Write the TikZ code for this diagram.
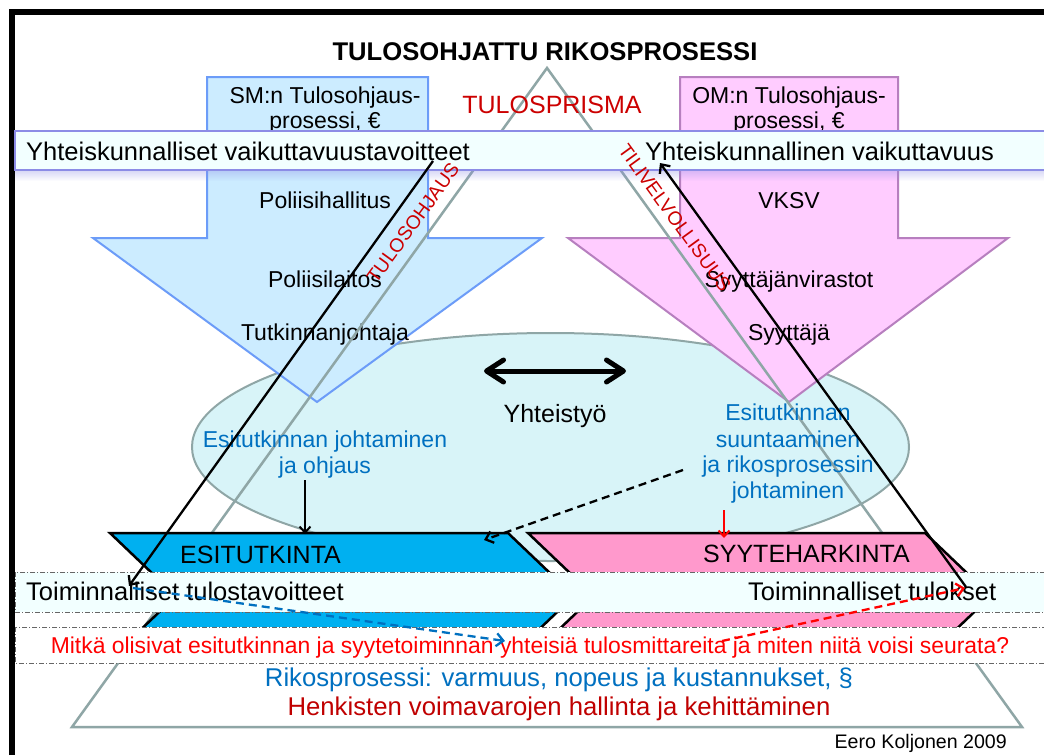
\documentclass[tikz,border=0pt]{standalone}
\usepackage{fontspec}
\setmainfont{Liberation Sans}
\usetikzlibrary{arrows.meta}

\definecolor{bluefill}{HTML}{CCECFF}
\definecolor{blueedge}{HTML}{6C9CF8}
\definecolor{pinkfill}{HTML}{FFCCFF}
\definecolor{pinkedge}{HTML}{B77FBF}
\definecolor{ellfill}{HTML}{D8F4F8}
\definecolor{grayedge}{HTML}{8FA6A6}
\definecolor{esifill}{HTML}{00B0F0}
\definecolor{syyfill}{HTML}{FF99CC}
\definecolor{bandfill}{HTML}{F2FFFF}
\definecolor{bandedge}{HTML}{8C8CE6}
\definecolor{darkred}{HTML}{C00000}
\definecolor{midred}{HTML}{CC0000}
\definecolor{textblue}{HTML}{0070C0}

\newcommand\fsz[1]{\fontsize{#1}{#1}\selectfont}

\begin{document}
\begin{tikzpicture}[x=1pt,y=-1pt,
  txt/.style={inner sep=0pt, anchor=base, font=\fsz{23}},
  bandtxt/.style={inner sep=0pt, anchor=base west, font=\fsz{25.5}},
  blkarrow/.style={line width=2.3pt, -{Straight Barb[length=7pt,width=13pt]}},
  dotband/.style={draw=black!60, line width=0.9pt, dash pattern=on 5pt off 2pt on 1pt off 2pt},
  chev/.style={draw=black, line width=2.5pt, line join=miter},
  dashedarrow/.style={line width=2.3pt, dash pattern=on 8pt off 5pt, -{Straight Barb[length=7pt,width=13pt]}},
]
\useasboundingbox (0,0) rectangle (1044,755);
\fill[white] (0,0) rectangle (1044,755);

% frame
\draw[line width=6pt] (12,755) -- (12,12) -- (1044,12);

% title
\node[txt, font=\fsz{25.6}\bfseries] (title) at (545,60) {TULOSOHJATTU RIKOSPROSESSI};

% cooperation ellipse
\draw[fill=ellfill, draw=grayedge, line width=2pt] (550.5,447) ellipse [x radius=358.5, y radius=114];

% block arrows of the two ministries
\draw[fill=bluefill, draw=blueedge, line width=2pt]
  (207,77) -- (428,77) -- (428,238) -- (542,238) -- (317,402) -- (93,238) -- (207,238) -- cycle;
\draw[fill=pinkfill, draw=pinkedge, line width=2pt]
  (680,77) -- (898,77) -- (898,238) -- (1008,238) -- (789,402) -- (568,238) -- (680,238) -- cycle;

\node[txt] (smA) at (325,103) {SM:n Tulosohjaus-};
\node[txt] (smB) at (325,128) {prosessi, €};
\node[txt] (poh) at (325,208) {Poliisihallitus};
\node[txt] (pol) at (325,287) {Poliisilaitos};
\node[txt] (tut) at (325,340) {Tutkinnanjohtaja};
\node[txt] (omA) at (789,103) {OM:n Tulosohjaus-};
\node[txt] (omB) at (789,128) {prosessi, €};
\node[txt] (vksv) at (789,208) {VKSV};
\node[txt] (syv) at (789,287) {Syyttäjänvirastot};
\node[txt] (syy) at (789,340) {Syyttäjä};

% result prism
\draw[draw=grayedge, line width=2.5pt, line join=miter] (547,68) -- (1022,727) -- (72,727) -- cycle;
\node[txt, font=\fsz{25}, text=midred] (prisma) at (552,113) {TULOSPRISMA};

% ellipse contents
\node[txt, font=\fsz{25}] (yht) at (555,422) {Yhteistyö};
\coordinate (coopL) at (484,371);
\coordinate (coopR) at (626,371);
\draw[line width=5pt, {Straight Barb[round,length=17pt,width=22pt]}-{Straight Barb[round,length=17pt,width=22pt]}] (coopL) -- (coopR);

\node[txt, text=textblue] (ejA) at (325,447) {Esitutkinnan johtaminen};
\node[txt, text=textblue] (ejB) at (325,473) {ja ohjaus};
\node[txt, text=textblue] (esA) at (788,420) {Esitutkinnan};
\node[txt, text=textblue] (esB) at (788,447) {suuntaaminen};
\node[txt, text=textblue] (esC) at (788,472) {ja rikosprosessin};
\node[txt, text=textblue] (esD) at (788,498) {johtaminen};

% the two process chevrons
\draw[chev, fill=esifill] (110,533) -- (508,533) -- (574,596) -- (508,659) -- (110,659) -- (176,596) -- cycle;
\draw[chev, fill=syyfill] (528,533) -- (925,533) -- (991,596) -- (925,659) -- (528,659) -- (594,596) -- cycle;
\node[txt, font=\fsz{25}, anchor=base west] (esi) at (180,563) {ESITUTKINTA};
\node[txt, font=\fsz{25}, anchor=base west] (syyt) at (703,562) {SYYTEHARKINTA};

% leadership arrows into the chevrons
\coordinate (ejOut) at (305,480);
\coordinate (esiIn) at (305,534);
\draw[line width=2pt, -{Straight Barb[length=6pt,width=11pt]}] (ejOut) -- (esiIn);
\coordinate (esOut) at (724,510);
\coordinate (syyIn) at (724,538);
\draw[red, line width=2pt, -{Straight Barb[length=6pt,width=11pt]}] (esOut) -- (syyIn);
\coordinate (dashOut) at (683,470);
\coordinate (dashIn) at (484,540);
\draw[line width=2.3pt, dash pattern=on 8pt off 5pt, -{Straight Barb[length=7pt,width=12pt]}] (dashOut) -- (dashIn);

% societal band
\foreach \i [evaluate=\i as \op using 0.32*(1-\i/10)] in {0,...,9}
  \fill[bandedge, opacity=\op] (15,171+\i) rectangle (1044,172+\i);
\draw[fill=bandfill, draw=bandedge, line width=1.5pt] (15,131) rectangle (1050,170);
\node[bandtxt] (ytav) at (26,160) {Yhteiskunnalliset vaikuttavuustavoitteet};
\node[bandtxt] (yvai) at (645,160) {Yhteiskunnallinen vaikuttavuus};

% operational band
\draw[dotband, fill=bandfill] (15,572) rectangle (1050,612);
\node[bandtxt] (ttav) at (26,600) {Toiminnalliset tulostavoitteet};
\node[bandtxt] (ttul) at (748,600) {Toiminnalliset tulokset};

% question band
\draw[dotband, fill=white] (15,627) rectangle (1050,663);
\node[txt, font=\fsz{22.9}, text=red] (kys) at (530,653) {Mitkä olisivat esitutkinnan ja syytetoiminnan yhteisiä tulosmittareita ja miten niitä voisi seurata?};

% bottom lines
\node[txt, font=\fsz{25.7}, text=textblue] (rik) at (559,686) {Rikosprosessi: varmuus, nopeus ja kustannukset, §};
\node[txt, font=\fsz{25.7}, text=darkred] (hen) at (559,715) {Henkisten voimavarojen hallinta ja kehittäminen};
\node[txt, font=\fsz{19.6}, anchor=base east] (auth) at (1007,748) {Eero Koljonen 2009};

% steering and accountability
\coordinate (ohjA) at (433,161);
\coordinate (ohjB) at (129,586);
\draw[blkarrow] (ohjA) -- (ohjB);
\coordinate (tilA) at (966,587);
\coordinate (tilB) at (660,163);
\draw[blkarrow] (tilA) -- (tilB);
\node[txt, anchor=center, font=\fsz{19.3}, text=midred, rotate=54] (ohj) at (413,223) {TULOSOHJAUS};
\node[txt, anchor=center, font=\fsz{19.3}, text=midred, rotate=-54] (til) at (675,218) {TILIVELVOLLISUUS};

% shared measures
\coordinate (tavOut) at (133,588);
\coordinate (kysL) at (505,641);
\draw[dashedarrow, textblue] (tavOut) -- (kysL);
\coordinate (kysR) at (722,641);
\coordinate (tulIn) at (965,588);
\draw[dashedarrow, red] (kysR) -- (tulIn);
\end{tikzpicture}
\end{document}
